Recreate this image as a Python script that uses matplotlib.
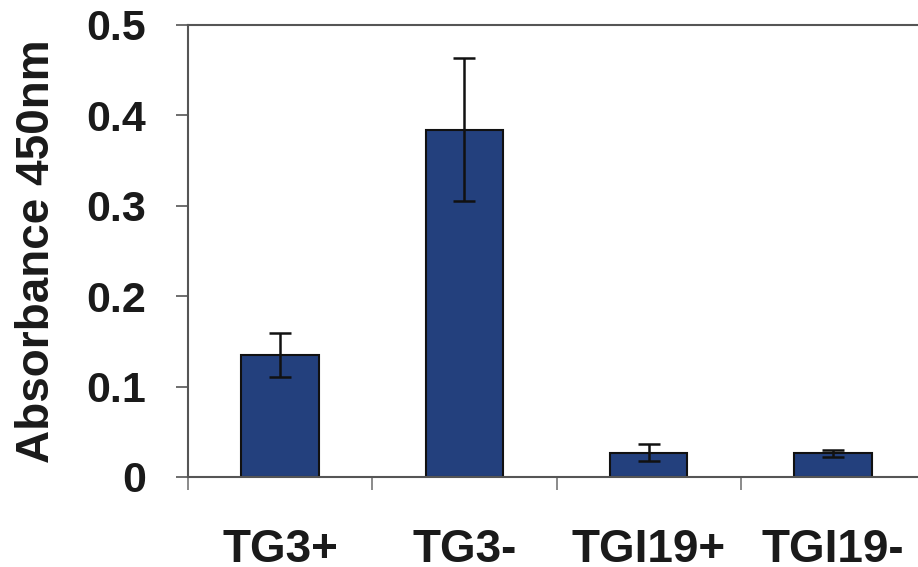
import numpy as np
import matplotlib
matplotlib.use('Agg')
import matplotlib.pyplot as plt
from matplotlib.ticker import FixedLocator

# data
labels = ['TG3+', 'TG3-', 'TGI19+', 'TGI19-']
values = [0.135, 0.384, 0.027, 0.026]
errors = [0.024, 0.079, 0.009, 0.004]
yticks = [0, 0.1, 0.2, 0.3, 0.4, 0.5]
ytick_labels = ['0', '0.1', '0.2', '0.3', '0.4', '0.5']

plt.rcParams['font.family'] = ['Liberation Sans', 'DejaVu Sans']
plt.rcParams['font.weight'] = 'bold'

fig = plt.figure(figsize=(9.18, 5.67), dpi=100)
W, H = 918, 567
# axes box in pixels: left 188, right 925 (past the edge), top 25, bottom 477
ax = fig.add_axes([188/W, (H-477)/H, (925-188)/W, (477-25)/H])

x = np.arange(len(labels))
ax.bar(x, values, width=0.42, color='#23407d', edgecolor='#111111', linewidth=1.5,
       yerr=errors, capsize=8,
       error_kw=dict(ecolor='#111111', elinewidth=1.8, capthick=1.8))

ax.set_xlim(-0.5, 3.5)
ax.set_ylim(0, 0.5)
ax.set_yticks(yticks)
ax.set_yticklabels(ytick_labels, fontsize=31, fontweight='bold', color='#1a1a1a')
ax.tick_params(axis='y', direction='out', length=9, width=1.2, colors='#555555',
               labelcolor='#1a1a1a', pad=21)

ax.set_xticks(x)
ax.set_xticklabels(labels, fontsize=33, fontweight='bold', color='#1a1a1a')
ax.xaxis.set_minor_locator(FixedLocator([-0.5, 0.5, 1.5, 2.5, 3.5]))
ax.tick_params(axis='x', which='major', length=0, pad=37, labelcolor='#1a1a1a')
ax.tick_params(axis='x', which='minor', direction='out', length=9, width=1.2,
               colors='#777777')

ax.set_ylabel('Absorbance 450nm', fontsize=33, fontweight='bold', color='#1a1a1a')
ax.yaxis.set_label_coords(-0.175, 0.5)

for side in ['left', 'bottom', 'top', 'right']:
    ax.spines[side].set_color('#555555')
    ax.spines[side].set_linewidth(1.5)

fig.savefig('out.png', dpi=100)
